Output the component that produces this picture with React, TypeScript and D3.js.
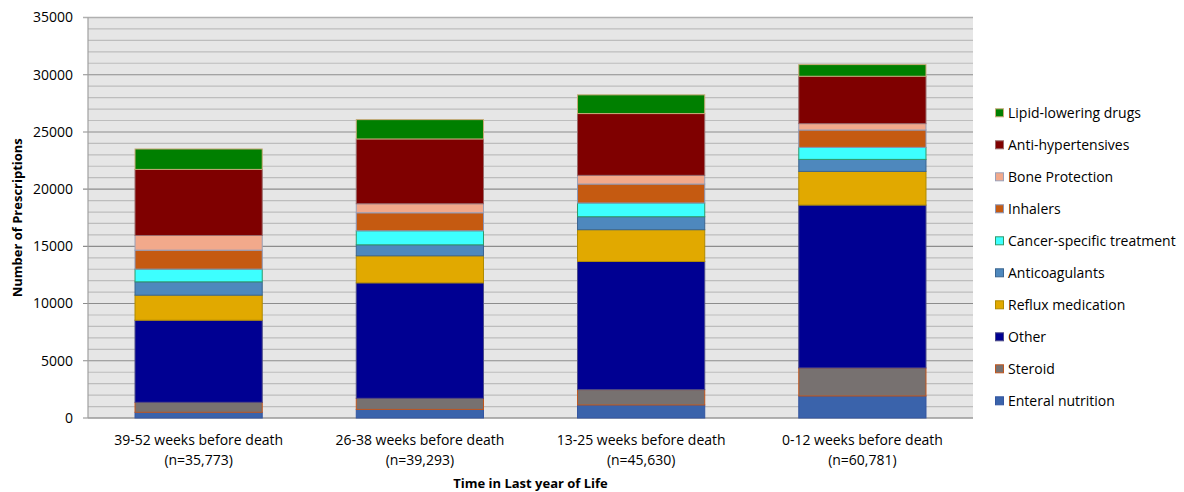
import React from "react";
import * as d3 from "d3";

// Prescriptions per drug class, stacked bottom to top
const categories = [
  ["39-52 weeks before death", "(n=35,773)"],
  ["26-38 weeks before death", "(n=39,293)"],
  ["13-25 weeks before death", "(n=45,630)"],
  ["0-12 weeks before death", "(n=60,781)"],
];

const seriesNames = [
  "Enteral nutrition",
  "Steroid",
  "Other",
  "Reflux medication",
  "Anticoagulants",
  "Cancer-specific treatment",
  "Inhalers",
  "Bone Protection",
  "Anti-hypertensives",
  "Lipid-lowering drugs",
];

const enteral = [500, 750, 1140, 1925];
const steroid = [870, 970, 1340, 2450];
const other = [7175, 10090, 11200, 14235];
const reflux = [2190, 2365, 2775, 2940];
const anticoag = [1165, 960, 1135, 1050];
const cancer = [1110, 1225, 1200, 1050];
const inhalers = [1660, 1575, 1660, 1520];
const bone = [1280, 790, 755, 555];
const antihyp = [5775, 5660, 5400, 4140];
const lipid = [1785, 1690, 1635, 1020];

const seriesValues = [enteral, steroid, other, reflux, anticoag, cancer, inhalers, bone, antihyp, lipid];

const fills = ["#3a63ab", "#777170", "#000092", "#e1a900", "#4e88bd", "#3dffff", "#c55a11", "#f2a98b", "#7f0000", "#007f00"];
const strokes = ["#3456a0", "#c0561e", "#4a4a88", "#b08a00", "#3b6590", "#2f9a6a", "#8a96b8", "#9aa0b8", "#9a6a6a", "#c8aa78"];

const yTicks = [0, 5000, 10000, 15000, 20000, 25000, 30000, 35000];

const W = 1184;
const H = 492;
const margin = { left: 88, right: 973, top: 17.5, bottom: 418 };
const font = "'Open Sans', sans-serif";

export default function App() {
  const x = d3
    .scaleBand<number>()
    .domain(d3.range(categories.length))
    .range([margin.left, margin.right])
    .paddingInner(0.425)
    .paddingOuter(0.2125);
  const y = d3.scaleLinear().domain([0, 35000]).range([margin.bottom, margin.top]);

  const rows = categories.map((_, i) => {
    const r: Record<string, number> = {};
    seriesNames.forEach((n, k) => (r[n] = seriesValues[k][i]));
    return r;
  });
  const stacked = d3.stack<Record<string, number>>().keys(seriesNames)(rows);

  const minor = d3.range(0, 35001, 1000);
  const plotMid = (margin.left + margin.right) / 2;

  return (
    <svg width={W} height={H} style={{ position: "absolute", left: 0, top: 0 }}>
      <rect x={0} y={0} width={W} height={H} fill="#ffffff" />
      <rect
        x={margin.left}
        y={margin.top}
        width={margin.right - margin.left}
        height={margin.bottom - margin.top}
        fill="#e6e6e6"
      />
      {minor
        .filter((v) => v % 5000 !== 0)
        .map((v) => (
          <line key={"m" + v} x1={margin.left} x2={margin.right} y1={y(v)} y2={y(v)} stroke="#bdbdbd" strokeWidth={1.2} />
        ))}
      {yTicks.map((v) => (
        <line
          key={"g" + v}
          x1={margin.left - 5}
          x2={margin.right}
          y1={y(v)}
          y2={y(v)}
          stroke={v === 35000 ? "#b0b0b0" : "#8c8c8c"}
          strokeWidth={v === 35000 ? 1.6 : 1.1}
        />
      ))}
      <line x1={margin.left} x2={margin.left} y1={margin.top} y2={margin.bottom} stroke="#a0a0a0" strokeWidth={1.2} />
      <line x1={margin.left} x2={margin.right} y1={margin.bottom} y2={margin.bottom} stroke="#a0a0a0" strokeWidth={1.2} />

      {stacked.map((s, k) =>
        s.map((d, i) => (
          <rect
            key={k + "-" + i}
            x={x(i)!}
            y={y(d[1])}
            width={x.bandwidth()}
            height={y(d[0]) - y(d[1])}
            fill={fills[k]}
            stroke={strokes[k]}
            strokeWidth={1}
          />
        ))
      )}

      {yTicks.map((v) => (
        <text
          key={"t" + v}
          x={73}
          y={y(v)}
          dy="0.35em"
          textAnchor="end"
          fontFamily={font}
          fontSize={14}
          fill="#000"
        >
          {v}
        </text>
      ))}

      {categories.map((c, i) => (
        <text
          key={"c" + i}
          x={x(i)! + x.bandwidth() / 2}
          textAnchor="middle"
          fontFamily={font}
          fontSize={14}
          fill="#000"
        >
          <tspan x={x(i)! + x.bandwidth() / 2} y={444.5}>
            {c[0]}
          </tspan>
          <tspan x={x(i)! + x.bandwidth() / 2} y={465}>
            {c[1]}
          </tspan>
        </text>
      ))}

      <text
        transform={`translate(22,${(margin.top + margin.bottom) / 2}) rotate(-90)`}
        textAnchor="middle"
        fontFamily={font}
        fontSize={13}
        fontWeight="bold"
        fill="#000"
      >
        Number of Prescriptions
      </text>
      <text x={plotMid} y={488} textAnchor="middle" fontFamily={font} fontSize={13} fontWeight="bold" fill="#000">
        Time in Last year of Life
      </text>

      {seriesNames
        .slice()
        .reverse()
        .map((n, j) => {
          const k = seriesNames.length - 1 - j;
          const cy = 113.3 + j * 32;
          return (
            <g key={"l" + n}>
              <rect x={995.5} y={cy - 4.5} width={8} height={8} fill={fills[k]} stroke={strokes[k]} strokeWidth={1} />
              <text x={1008} y={cy} dy="0.35em" fontFamily={font} fontSize={14} fill="#000">
                {n}
              </text>
            </g>
          );
        })}
    </svg>
  );
}
